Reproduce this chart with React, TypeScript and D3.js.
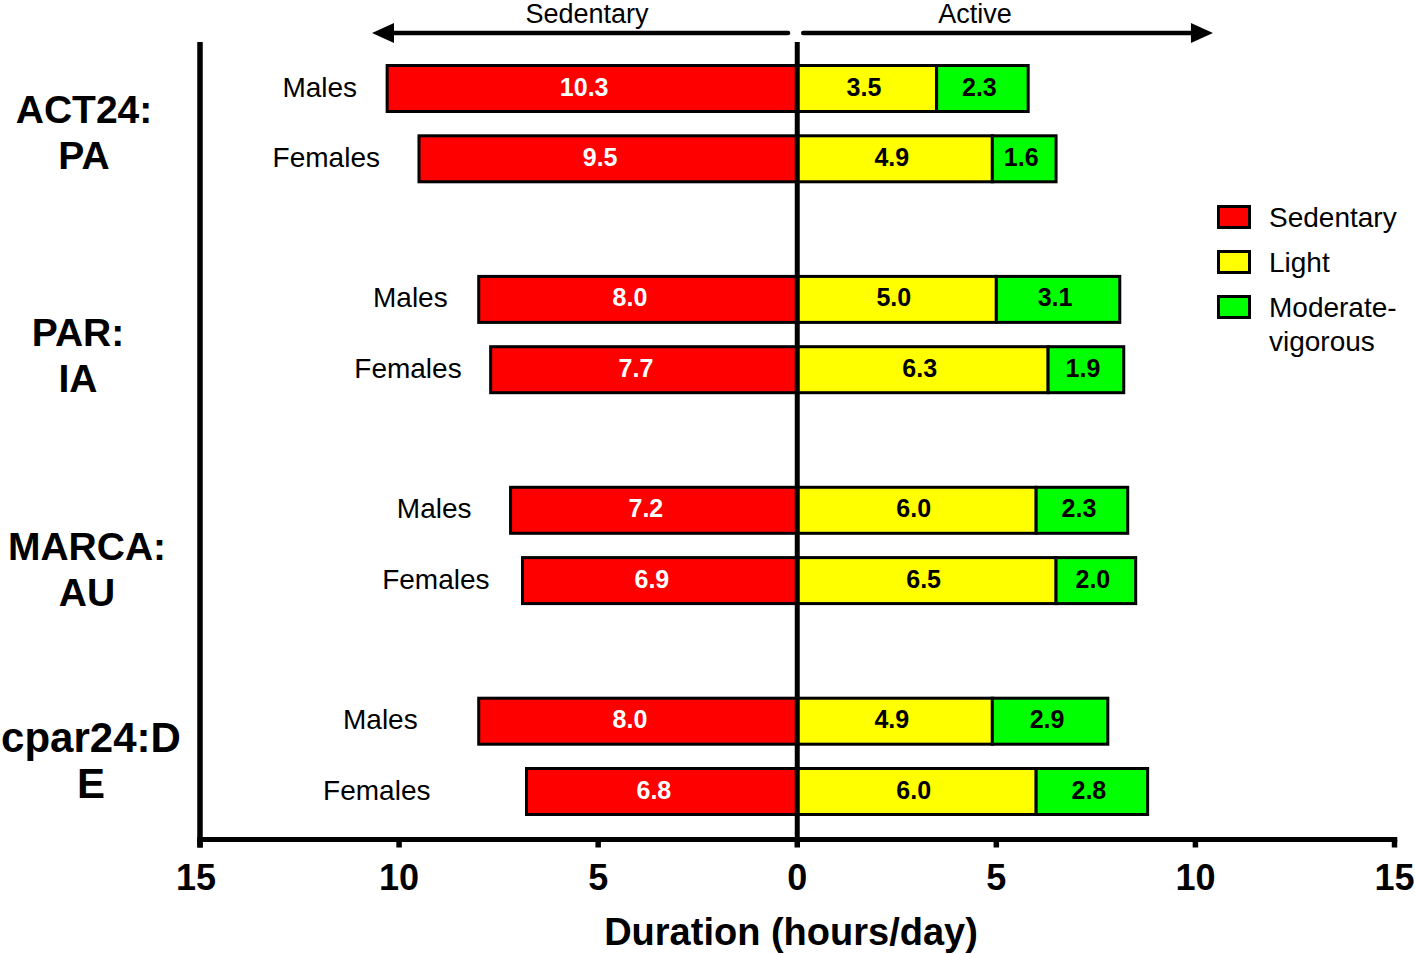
import React from 'react';
import * as d3 from 'd3';

// ---------- data ----------
const groupLines: string[][] = [
  ['ACT24:', 'PA'],
  ['PAR:', 'IA'],
  ['MARCA:', 'AU'],
  ['cpar24:D', 'E'],
];
const sexes = ['Males', 'Females'];
const sedentary = [
  [10.3, 9.5],
  [8.0, 7.7],
  [7.2, 6.9],
  [8.0, 6.8],
];
const light = [
  [3.5, 4.9],
  [5.0, 6.3],
  [6.0, 6.5],
  [4.9, 6.0],
];
const modVig = [
  [2.3, 1.6],
  [3.1, 1.9],
  [2.3, 2.0],
  [2.9, 2.8],
];
const xTicks = [-15, -10, -5, 0, 5, 10, 15];
const legendLabels: string[][] = [['Sedentary'], ['Light'], ['Moderate-', 'vigorous']];
const seriesColors = ['#ff0000', '#ffff00', '#00ff00'];
const valueColors = ['#ffffff', '#000000', '#000000'];
const axisTitle = 'Duration (hours/day)';
const directionLabels = ['Sedentary', 'Active'];

// ---------- layout ----------
const W = 1415;
const H = 954;
const FONT = '"Liberation Sans", Arial, Helvetica, sans-serif';
const axisY = 839.5;
const plotTop = 42;
const barH = 46;
// gap (px) between the row label and the bar start
const labelGaps = [
  [30, 39],
  [31, 29],
  [39, 33],
  [61, 96],
];
const groupLabelX = [84, 78, 87, 91];
const groupLabelDy = [-1, 11, 15, -4];
const groupFontSize = [39, 39, 39, 42];

export default function App() {
  const x = d3.scaleLinear().domain([-15, 15]).range([200, 1394.5]);
  const y = d3.scaleLinear().domain([0, 10]).range([88.5, 791.5]);
  const x0 = x(0);

  const rows: any[] = [];
  groupLines.forEach((_, g) => {
    sexes.forEach((sex, s) => {
      rows.push({
        g,
        s,
        sex,
        cy: y(g * 3 + s),
        sed: sedentary[g][s],
        li: light[g][s],
        mv: modVig[g][s],
      });
    });
  });

  const arrowY = 33;
  const headL = 22;
  const headW = 10;
  const leftTip = x(-10.68);
  const rightTip = x(10.44);

  return (
    <div style={{ position: 'absolute', left: 0, top: 0 }}>
      <svg width={W} height={H} style={{ display: 'block', background: '#fff' }} fontFamily={FONT}>
        {/* bars */}
        {rows.map((r, i) => {
          const segs = [
            { x1: x(-r.sed), x2: x0, v: r.sed, k: 0 },
            { x1: x0, x2: x(r.li), v: r.li, k: 1 },
            { x1: x(r.li), x2: x(r.li + r.mv), v: r.mv, k: 2 },
          ];
          return (
            <g key={i}>
              {segs.map((sg) => (
                <rect
                  key={sg.k}
                  x={sg.x1}
                  y={r.cy - barH / 2}
                  width={sg.x2 - sg.x1}
                  height={barH}
                  fill={seriesColors[sg.k]}
                  stroke="#000"
                  strokeWidth={3}
                />
              ))}
              {segs.map((sg) => (
                <text
                  key={'t' + sg.k}
                  x={(sg.x1 + sg.x2) / 2 - (sg.k === 0 ? 8 : 3)}
                  y={r.cy + 7}
                  textAnchor="middle"
                  fontWeight="bold"
                  fontSize={25}
                  fill={valueColors[sg.k]}
                >
                  {sg.v.toFixed(1)}
                </text>
              ))}
              <text
                x={x(-r.sed) - labelGaps[r.g][r.s]}
                y={r.cy + 8}
                textAnchor="end"
                fontSize={28}
                fill="#000"
              >
                {r.sex}
              </text>
            </g>
          );
        })}

        {/* group labels */}
        {groupLines.map((lines, g) => {
          const mid = (y(g * 3) + y(g * 3 + 1)) / 2;
          return (
            <text
              key={g}
              x={groupLabelX[g]}
              y={mid + groupLabelDy[g]}
              textAnchor="middle"
              fontWeight="bold"
              fontSize={groupFontSize[g]}
              fill="#000"
            >
              {lines.map((ln, j) => (
                <tspan key={j} x={groupLabelX[g]} dy={j === 0 ? 0 : 46}>
                  {ln}
                </tspan>
              ))}
            </text>
          );
        })}

        {/* center line */}
        <line x1={x0} x2={x0} y1={plotTop} y2={axisY} stroke="#000" strokeWidth={5} />
        {/* left axis */}
        <line x1={x(-15)} x2={x(-15)} y1={plotTop} y2={axisY + 8} stroke="#000" strokeWidth={5.5} />
        {/* bottom axis */}
        <line x1={x(-15) - 2.75} x2={x(15) + 2.75} y1={axisY} y2={axisY} stroke="#000" strokeWidth={5} />
        {xTicks.map((t) => (
          <g key={t}>
            <line x1={x(t)} x2={x(t)} y1={axisY} y2={axisY + 8} stroke="#000" strokeWidth={5.5} />
            <text x={x(t) - (t === -15 ? 4 : 0)} y={890} textAnchor="middle" fontWeight="bold" fontSize={36} fill="#000">
              {Math.abs(t)}
            </text>
          </g>
        ))}
        <text x={791} y={945} textAnchor="middle" fontWeight="bold" fontSize={38} fill="#000">
          {axisTitle}
        </text>

        {/* direction arrows */}
        <line x1={x(-0.23)} x2={leftTip + headL - 2} y1={arrowY} y2={arrowY} stroke="#000" strokeWidth={4.5} strokeLinecap="round" />
        <polygon
          points={`${leftTip},${arrowY} ${leftTip + headL},${arrowY - headW} ${leftTip + headL},${arrowY + headW}`}
          fill="#000"
        />
        <line x1={x(0.15)} x2={rightTip - headL + 2} y1={arrowY} y2={arrowY} stroke="#000" strokeWidth={4.5} strokeLinecap="round" />
        <polygon
          points={`${rightTip},${arrowY} ${rightTip - headL},${arrowY - headW} ${rightTip - headL},${arrowY + headW}`}
          fill="#000"
        />
        <text x={587} y={23} textAnchor="middle" fontSize={27} fill="#000">
          {directionLabels[0]}
        </text>
        <text x={975} y={23} textAnchor="middle" fontSize={27} fill="#000">
          {directionLabels[1]}
        </text>

        {/* legend */}
        {legendLabels.map((lines, i) => (
          <g key={i}>
            <rect
              x={1218.5}
              y={206.5 + i * 45}
              width={31}
              height={21}
              fill={seriesColors[i]}
              stroke="#000"
              strokeWidth={3}
            />
            <text x={1269} y={227 + i * 45} fontSize={28} fill="#000">
              {lines.map((ln, j) => (
                <tspan key={j} x={1269} dy={j === 0 ? 0 : 34}>
                  {ln}
                </tspan>
              ))}
            </text>
          </g>
        ))}
      </svg>
    </div>
  );
}
